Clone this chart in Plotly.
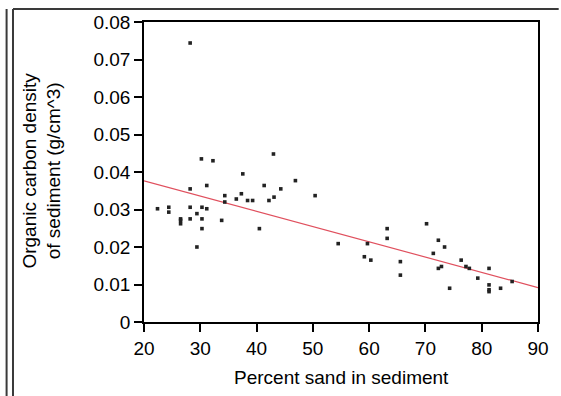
import plotly.graph_objects as go

# Percent sand vs. organic carbon density of sediment samples
sand_pct = [28.2, 30.2, 32.25, 43.0, 37.55, 28.2, 31.15, 41.35, 34.35, 37.3,
            36.4, 38.4, 39.3, 42.2, 43.1, 34.35, 22.4, 24.4, 24.4, 28.2,
            30.3, 31.15, 29.4, 26.5, 26.5, 26.5, 28.2, 30.3, 33.8, 30.3,
            40.5, 29.4, 46.9, 44.3, 50.4, 54.5, 59.7, 59.15, 60.3, 63.2,
            63.2, 65.55, 65.55, 70.2, 72.3, 73.4, 71.4, 72.3, 72.85, 74.3,
            76.35, 77.2, 77.8, 79.3, 81.3, 81.3, 81.3, 81.3, 83.35, 85.4]
carbon_density = [0.0744, 0.0435, 0.0430, 0.0448, 0.0395, 0.0355, 0.0364, 0.0364, 0.0337, 0.0342,
                  0.0328, 0.0324, 0.0324, 0.0324, 0.0333, 0.0320, 0.0302, 0.0306, 0.0293, 0.0306,
                  0.0306, 0.0302, 0.0289, 0.0275, 0.0271, 0.0262, 0.0275, 0.0275, 0.0271, 0.0249,
                  0.0249, 0.0200, 0.0377, 0.0355, 0.0337, 0.0209, 0.0209, 0.0174, 0.0165, 0.0249,
                  0.0223, 0.0161, 0.0125, 0.0262, 0.0218, 0.0200, 0.0183, 0.0143, 0.0148, 0.0090,
                  0.0165, 0.0148, 0.0143, 0.0117, 0.0143, 0.0099, 0.0086, 0.0081, 0.0090, 0.0108]

# Linear fit: density = intercept + slope * sand
fit_intercept = 0.0458
fit_slope = -0.000407
fit_x = [20, 90]
fit_y = [fit_intercept + fit_slope * v for v in fit_x]

x_ticks = [20, 30, 40, 50, 60, 70, 80, 90]
y_ticks = [0, 0.01, 0.02, 0.03, 0.04, 0.05, 0.06, 0.07, 0.08]
y_tick_text = ["0", "0.01", "0.02", "0.03", "0.04", "0.05", "0.06", "0.07", "0.08"]

FONT = "Liberation Sans, Arial, sans-serif"
FONT_SIZE = 19

fig = go.Figure()
fig.add_trace(go.Scatter(
    x=fit_x, y=fit_y, mode="lines",
    line=dict(color="#e0505e", width=1.2),
    hoverinfo="skip", showlegend=False,
))
fig.add_trace(go.Scatter(
    x=sand_pct, y=carbon_density, mode="markers",
    marker=dict(symbol="square", size=3.6, color="#222222", line=dict(width=0)),
    showlegend=False,
))

axis_common = dict(
    showgrid=False, zeroline=False,
    showline=True, linecolor="black", linewidth=1.5, mirror=True,
    ticks="outside", ticklen=8, tickwidth=1.5, tickcolor="black",
    tickfont=dict(family=FONT, size=FONT_SIZE, color="black"),
)

fig.update_layout(
    width=561, height=396,
    margin=dict(l=144, r=17, t=20, b=74),
    paper_bgcolor="white", plot_bgcolor="white",
    xaxis=dict(range=[20, 90], tickvals=x_ticks, **axis_common),
    yaxis=dict(range=[0, 0.08], tickvals=y_ticks, ticktext=y_tick_text, **axis_common),
)

fig.add_annotation(
    text="Percent sand in sediment", xref="paper", yref="paper",
    x=0.5, y=-0.185, xanchor="center", yanchor="middle", showarrow=False,
    font=dict(family=FONT, size=FONT_SIZE, color="black"),
)
fig.add_annotation(
    text="Organic carbon density<br>of sediment (g/cm^3)", xref="paper", yref="paper",
    x=(40 - 144) / 400, y=(322 - 170) / 302, xanchor="center", yanchor="middle",
    textangle=-90, showarrow=False,
    font=dict(family=FONT, size=FONT_SIZE, color="black"),
)

# Surrounding frame lines (positions in paper units relative to the plot area)
def px_x(p):
    return (p - 144) / 400

def px_y(p):
    return (322 - p) / 302

frame = dict(color="#3a3a3a", width=2)
fig.add_shape(type="line", xref="paper", yref="paper",
              x0=px_x(4.5), x1=px_x(4.5), y0=px_y(7), y1=px_y(400), line=frame)
fig.add_shape(type="line", xref="paper", yref="paper",
              x0=px_x(11), x1=px_x(11), y0=px_y(7), y1=px_y(400), line=frame)
fig.add_shape(type="line", xref="paper", yref="paper",
              x0=px_x(11), x1=px_x(565), y0=px_y(7), y1=px_y(7), line=frame)

fig.write_html("out.html")
